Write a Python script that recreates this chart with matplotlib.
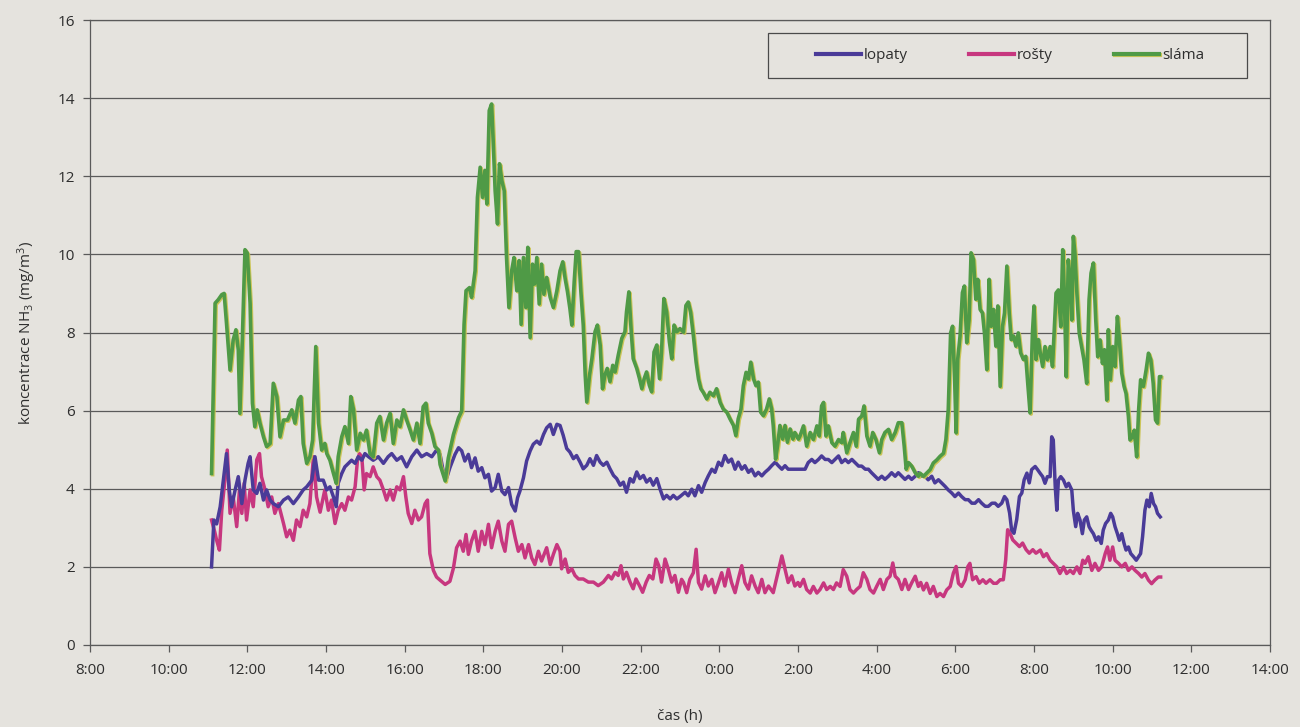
import matplotlib
matplotlib.use("Agg")
import matplotlib.pyplot as plt
import matplotlib.patheffects as pe
from matplotlib.patches import Rectangle

plt.rcParams['font.family'] = ['Open Sans', 'DejaVu Sans']
plt.rcParams['mathtext.default'] = 'regular'

# time in hours from 0:00 of day 1 (values > 24 are the next day)
t_slama = [11.09, 11.18, 11.26, 11.35, 11.41, 11.47, 11.56, 11.64, 11.71, 11.77, 11.81, 11.87, 11.94, 12.0, 12.07, 12.13, 12.19, 12.25, 12.32, 12.41, 12.49, 12.58, 12.66, 12.75, 12.83, 12.92, 13.02, 13.13, 13.21, 13.30, 13.36, 13.42, 13.51, 13.59, 13.66, 13.74, 13.81, 13.89, 13.97,
           14.02, 14.10, 14.19, 14.26, 14.31, 14.40, 14.48, 14.57, 14.63, 14.70, 14.78, 14.87, 14.95, 15.03, 15.12, 15.20, 15.29, 15.37, 15.46, 15.54, 15.63, 15.71, 15.80, 15.88, 15.97, 16.05, 16.14, 16.22, 16.31, 16.39, 16.47, 16.54, 16.60, 16.69, 16.77, 16.86,
           16.90, 17.03, 17.11, 17.24, 17.37, 17.45, 17.51, 17.56, 17.65, 17.70, 17.79, 17.85, 17.92, 17.98, 18.04, 18.09, 18.15, 18.21, 18.25, 18.30, 18.36, 18.41, 18.47, 18.53, 18.59, 18.65, 18.72, 18.78, 18.85, 18.91, 18.96, 19.02, 19.08, 19.13, 19.19, 19.25, 19.30, 19.36, 19.42, 19.48, 19.54, 19.61, 19.70, 19.78, 19.87, 19.95,
           20.02, 20.08, 20.14, 20.20, 20.25, 20.31, 20.36, 20.42, 20.48, 20.54, 20.59, 20.63, 20.70, 20.76, 20.84, 20.90, 20.97, 21.03, 21.09, 21.15, 21.22, 21.29, 21.35, 21.43, 21.52, 21.60, 21.64, 21.70, 21.76, 21.81, 21.90, 21.97, 22.03, 22.09, 22.15, 22.22, 22.28, 22.34, 22.41, 22.48, 22.53, 22.59, 22.66, 22.73, 22.79, 22.85, 22.92,
           23.0, 23.09, 23.15, 23.21, 23.27, 23.34, 23.41, 23.47, 23.53, 23.59, 23.68, 23.76, 23.85, 23.93, 24.02, 24.10, 24.19, 24.27, 24.36, 24.42, 24.48, 24.55, 24.61, 24.68, 24.74, 24.80, 24.87, 24.93, 24.99, 25.05, 25.12, 25.20, 25.27, 25.33, 25.37, 25.43, 25.48, 25.54, 25.61, 25.67, 25.73, 25.80, 25.87, 25.92, 26.01,
           26.05, 26.14, 26.22, 26.31, 26.39, 26.48, 26.54, 26.60, 26.65, 26.71, 26.77, 26.86, 26.94, 27.03, 27.11, 27.15, 27.24, 27.32, 27.41, 27.48, 27.54, 27.62, 27.68, 27.75, 27.83, 27.90, 27.98, 28.07, 28.13, 28.21, 28.30, 28.38, 28.47, 28.55, 28.64, 28.70, 28.75, 28.81, 28.89, 28.98, 29.06,
           29.10, 29.19, 29.27, 29.36, 29.44, 29.53, 29.61, 29.70, 29.76, 29.82, 29.88, 29.93, 29.98, 30.02, 30.06, 30.12, 30.18, 30.23, 30.29, 30.35, 30.40, 30.46, 30.52, 30.57, 30.63, 30.69, 30.74, 30.80, 30.86, 30.91, 30.97, 31.03, 31.08, 31.14, 31.20, 31.25, 31.31, 31.37, 31.42, 31.48, 31.54, 31.60, 31.66, 31.73, 31.79, 31.84, 31.90, 31.96, 32.00, 32.05, 32.11,
           32.16, 32.22, 32.28, 32.34, 32.41, 32.47, 32.52, 32.56, 32.62, 32.68, 32.73, 32.77, 32.82, 32.87, 32.92, 32.96, 33.00, 33.04, 33.09, 33.15, 33.21, 33.27, 33.34, 33.40, 33.45, 33.51, 33.57, 33.62, 33.68, 33.74, 33.79, 33.85, 33.89, 33.94, 34.00, 34.06, 34.12, 34.17, 34.23, 34.29, 34.34, 34.40, 34.44, 34.50, 34.55, 34.61, 34.66, 34.71, 34.78, 34.85, 34.91, 34.97, 35.03, 35.09, 35.14, 35.19, 35.22]
v_slama = [4.39, 8.75, 8.84, 8.97, 9.0, 8.24, 7.04, 7.81, 8.07, 7.55, 5.93, 7.73, 10.12, 10.03, 8.75, 6.19, 5.59, 6.02, 5.68, 5.33, 5.08, 5.16, 6.70, 6.36, 5.33, 5.76, 5.76, 6.02, 5.68, 6.27, 6.36, 5.16, 4.65, 4.82, 5.25, 7.64, 5.68, 4.99, 5.16,
           4.9, 4.73, 4.39, 4.14, 4.82, 5.33, 5.59, 5.16, 6.36, 6.02, 4.99, 5.42, 5.25, 5.5, 4.9, 4.82, 5.68, 5.85, 5.25, 5.68, 5.93, 5.16, 5.76, 5.59, 6.02, 5.76, 5.5, 5.25, 5.68, 5.16, 6.10, 6.19, 5.68, 5.42, 5.08, 4.99,
           4.62, 4.2, 4.79, 5.39, 5.82, 5.99, 8.21, 9.07, 9.15, 8.9, 9.58, 11.46, 12.23, 11.46, 12.15, 11.29, 13.68, 13.85, 12.91, 11.63, 10.78, 12.32, 11.89, 11.63, 9.92, 8.64, 9.58, 9.92, 9.07, 9.84, 8.21, 9.92, 8.64, 10.18, 7.87, 9.75, 9.24, 9.92, 8.73, 9.75, 8.98, 9.41, 8.9, 8.64, 9.07, 9.58,
           9.81, 9.38, 9.04, 8.62, 8.19, 9.30, 10.07, 10.07, 9.04, 8.19, 6.91, 6.22, 6.91, 7.33, 8.02, 8.19, 7.68, 6.56, 6.91, 7.08, 6.74, 7.16, 6.99, 7.42, 7.85, 8.02, 8.53, 9.04, 8.02, 7.33, 7.08, 6.82, 6.56, 6.82, 6.99, 6.65, 6.48, 7.5, 7.68, 6.82, 7.5, 8.87, 8.53, 7.76, 7.33, 8.19, 8.02,
           8.1, 8.01, 8.69, 8.78, 8.52, 7.92, 7.24, 6.81, 6.56, 6.47, 6.30, 6.47, 6.38, 6.56, 6.21, 6.04, 5.96, 5.79, 5.62, 5.36, 5.79, 6.04, 6.64, 6.98, 6.81, 7.24, 6.81, 6.64, 6.73, 5.96, 5.87, 6.04, 6.30, 6.04, 5.62, 4.76, 5.10, 5.62, 5.27, 5.62, 5.19, 5.53, 5.27, 5.44, 5.27,
           5.35, 5.61, 5.09, 5.44, 5.26, 5.61, 5.35, 6.12, 6.21, 5.35, 5.61, 5.18, 5.09, 5.26, 5.18, 5.44, 4.92, 5.18, 5.44, 5.09, 5.78, 5.86, 6.12, 5.35, 5.09, 5.44, 5.26, 4.92, 5.26, 5.44, 5.52, 5.26, 5.44, 5.69, 5.69, 5.09, 4.50, 4.67, 4.58, 4.41, 4.32,
           4.40, 4.32, 4.40, 4.49, 4.66, 4.74, 4.83, 4.91, 5.26, 6.03, 7.99, 8.16, 6.88, 5.43, 7.31, 7.91, 9.02, 9.19, 7.74, 8.33, 10.04, 9.87, 8.85, 9.36, 8.59, 8.50, 7.99, 7.05, 9.36, 8.16, 8.59, 7.65, 8.68, 6.62, 8.16, 8.50, 9.70, 8.50, 7.82, 7.91, 7.65, 7.99, 7.48, 7.31, 7.39, 6.71, 5.94, 7.99, 8.68, 7.31, 7.82,
           7.47, 7.13, 7.64, 7.30, 7.64, 7.13, 8.15, 9.01, 9.09, 8.15, 10.12, 9.01, 6.87, 9.86, 9.35, 8.32, 10.46, 10.03, 9.01, 7.98, 7.64, 7.30, 6.70, 8.84, 9.52, 9.78, 8.32, 7.38, 7.81, 7.21, 7.56, 6.27, 8.07, 6.79, 7.64, 7.13, 8.41, 7.81, 6.96, 6.62, 6.44, 5.85, 5.25, 5.33, 5.50, 4.82, 6.02, 6.79, 6.62, 7.04, 7.47, 7.30, 6.70, 5.76, 5.68, 6.87, 6.87]

t_lopaty = [11.09, 11.15, 11.22, 11.31, 11.39, 11.47, 11.54, 11.60, 11.69, 11.77, 11.86, 11.94, 12.02, 12.07, 12.15, 12.24, 12.32, 12.41, 12.49, 12.58, 12.66, 12.79, 12.92, 13.04, 13.17, 13.30, 13.42, 13.51, 13.64, 13.72, 13.81,
            13.93, 14.02, 14.10, 14.19, 14.26, 14.31, 14.40, 14.48, 14.57, 14.65, 14.74, 14.82, 14.91, 14.99, 15.08, 15.20, 15.33, 15.46, 15.58, 15.67, 15.80, 15.92, 16.05, 16.18, 16.31, 16.43, 16.56, 16.69, 16.81,
            16.90, 16.98, 17.07, 17.15, 17.28, 17.37, 17.45, 17.53, 17.62, 17.70, 17.79, 17.87, 17.96, 18.04, 18.13, 18.21, 18.30, 18.38, 18.47, 18.55, 18.64, 18.72, 18.81, 18.87, 18.93, 19.02, 19.10, 19.19, 19.27, 19.36, 19.44, 19.53, 19.61, 19.70, 19.78, 19.87,
            19.95, 20.03, 20.12, 20.20, 20.29, 20.37, 20.46, 20.54, 20.63, 20.71, 20.80, 20.88, 20.97, 21.05, 21.14, 21.22, 21.31, 21.39, 21.48, 21.56, 21.64, 21.73, 21.81, 21.90, 21.98, 22.07, 22.15, 22.24, 22.32, 22.41, 22.49, 22.58, 22.66, 22.75, 22.83, 22.92,
            23.0, 23.13, 23.21, 23.30, 23.38, 23.47, 23.55, 23.64, 23.72, 23.81, 23.89, 23.98, 24.06, 24.14, 24.23, 24.31, 24.40, 24.48, 24.57, 24.65, 24.74, 24.82, 24.91, 24.99, 25.08, 25.16, 25.25, 25.33, 25.42, 25.50, 25.59, 25.67, 25.75, 25.88,
            26.05, 26.18, 26.26, 26.35, 26.43, 26.52, 26.60, 26.69, 26.77, 26.86, 26.94, 27.03, 27.11, 27.20, 27.28, 27.37, 27.45, 27.54, 27.62, 27.71, 27.79, 27.87, 27.96, 28.04, 28.13, 28.21, 28.30, 28.38, 28.47, 28.55, 28.64, 28.72, 28.81, 28.89, 28.98, 29.06,
            29.15, 29.23, 29.31, 29.40, 29.48, 29.57, 29.65, 29.74, 29.82, 29.91, 29.99, 30.08, 30.16, 30.25, 30.33, 30.42, 30.50, 30.59, 30.67, 30.76, 30.84, 30.93, 31.01, 31.09, 31.18, 31.25, 31.31, 31.38, 31.43, 31.49, 31.56, 31.63, 31.69, 31.75, 31.82, 31.88, 31.94, 32.03, 32.09,
            32.16, 32.22, 32.28, 32.34, 32.41, 32.45, 32.49, 32.54, 32.58, 32.62, 32.68, 32.75, 32.82, 32.88, 32.96, 33.00, 33.06, 33.11, 33.17, 33.23, 33.28, 33.34, 33.40, 33.45, 33.51, 33.58, 33.64, 33.71, 33.76, 33.82, 33.89, 33.95, 34.00, 34.06, 34.12, 34.17, 34.23, 34.29, 34.34, 34.40, 34.46, 34.53, 34.60, 34.66, 34.71, 34.76, 34.82, 34.87, 34.93, 34.98, 35.04, 35.09, 35.14, 35.21]
v_lopaty = [2.0, 3.2, 3.1, 3.54, 4.22, 4.9, 3.97, 3.54, 3.97, 4.31, 3.62, 4.22, 4.65, 4.82, 3.97, 3.88, 4.14, 3.71, 3.97, 3.71, 3.62, 3.54, 3.71, 3.79, 3.62, 3.79, 3.97, 4.05, 4.22, 4.82, 4.22,
            4.22, 3.97, 4.05, 3.79, 3.54, 4.14, 4.39, 4.56, 4.65, 4.73, 4.65, 4.82, 4.73, 4.9, 4.82, 4.73, 4.82, 4.65, 4.82, 4.9, 4.73, 4.82, 4.56, 4.82, 4.99, 4.82, 4.9, 4.82, 4.99,
            4.88, 4.45, 4.28, 4.54, 4.88, 5.05, 4.97, 4.71, 4.88, 4.54, 4.79, 4.45, 4.54, 4.28, 4.37, 3.94, 4.03, 4.37, 3.94, 3.85, 4.03, 3.6, 3.43, 3.77, 3.94, 4.28, 4.71, 4.97, 5.14, 5.22, 5.14, 5.39, 5.56, 5.65, 5.39, 5.65,
            5.62, 5.37, 5.03, 4.94, 4.77, 4.85, 4.68, 4.51, 4.6, 4.77, 4.6, 4.85, 4.68, 4.6, 4.68, 4.51, 4.34, 4.26, 4.09, 4.17, 3.91, 4.26, 4.17, 4.43, 4.26, 4.34, 4.17, 4.26, 4.09, 4.26, 4.0, 3.74, 3.83, 3.74, 3.83, 3.74,
            3.8, 3.91, 3.82, 3.99, 3.82, 4.08, 3.91, 4.16, 4.33, 4.50, 4.42, 4.68, 4.59, 4.85, 4.68, 4.76, 4.50, 4.68, 4.50, 4.59, 4.42, 4.50, 4.33, 4.42, 4.33, 4.42, 4.50, 4.59, 4.68, 4.59, 4.50, 4.59, 4.50, 4.50,
            4.50, 4.5, 4.67, 4.75, 4.67, 4.75, 4.84, 4.75, 4.75, 4.67, 4.75, 4.84, 4.67, 4.75, 4.67, 4.75, 4.67, 4.58, 4.58, 4.50, 4.50, 4.41, 4.32, 4.24, 4.32, 4.24, 4.32, 4.41, 4.32, 4.41, 4.32, 4.24, 4.32, 4.24, 4.32, 4.41,
            4.32, 4.32, 4.23, 4.32, 4.15, 4.23, 4.15, 4.06, 3.97, 3.89, 3.80, 3.89, 3.80, 3.72, 3.72, 3.63, 3.63, 3.72, 3.63, 3.55, 3.55, 3.63, 3.63, 3.55, 3.63, 3.80, 3.72, 3.38, 2.95, 2.86, 3.21, 3.80, 3.89, 4.23, 4.40, 4.15, 4.49, 4.57, 4.49,
            4.39, 4.31, 4.14, 4.31, 4.31, 5.33, 5.25, 4.05, 3.45, 4.22, 4.31, 4.22, 4.05, 4.14, 3.97, 3.45, 3.03, 3.37, 3.20, 2.85, 3.20, 3.28, 3.03, 2.94, 2.85, 2.68, 2.77, 2.60, 2.94, 3.11, 3.20, 3.37, 3.28, 3.03, 2.85, 2.68, 2.85, 2.60, 2.43, 2.51, 2.34, 2.26, 2.17, 2.26, 2.34, 2.77, 3.45, 3.71, 3.54, 3.88, 3.62, 3.54, 3.37, 3.28]

t_rosty = [11.09, 11.17, 11.22, 11.29, 11.35, 11.43, 11.49, 11.56, 11.64, 11.73, 11.80, 11.86, 11.92, 11.98, 12.07, 12.15, 12.24, 12.31, 12.36, 12.45, 12.53, 12.62, 12.70, 12.79, 12.92, 13.00, 13.08, 13.17, 13.25, 13.34, 13.42, 13.51, 13.59, 13.68, 13.76, 13.85,
           13.97, 14.06, 14.14, 14.23, 14.31, 14.40, 14.48, 14.57, 14.65, 14.74, 14.80, 14.85, 14.91, 14.97, 15.03, 15.12, 15.20, 15.29, 15.37, 15.46, 15.54, 15.63, 15.71, 15.80, 15.88, 15.97, 16.03, 16.09, 16.18, 16.26, 16.35, 16.43, 16.52, 16.58, 16.64, 16.73, 16.81, 16.90,
           17.03, 17.15, 17.24, 17.32, 17.41, 17.49, 17.56, 17.62, 17.70, 17.79, 17.87, 17.96, 18.04, 18.13, 18.21, 18.30, 18.38, 18.47, 18.55, 18.64, 18.72, 18.81, 18.89, 18.98, 19.06, 19.15, 19.23, 19.31, 19.40, 19.48, 19.61, 19.70, 19.78, 19.87,
           19.95, 19.99, 20.08, 20.16, 20.25, 20.33, 20.42, 20.54, 20.67, 20.80, 20.92, 21.05, 21.18, 21.26, 21.35, 21.43, 21.50, 21.56, 21.64, 21.73, 21.81, 21.88, 21.97, 22.05, 22.14, 22.22, 22.31, 22.39, 22.46, 22.53, 22.62, 22.70, 22.79, 22.87, 22.96,
           23.04, 23.09, 23.17, 23.25, 23.34, 23.41, 23.47, 23.55, 23.64, 23.72, 23.81, 23.89, 23.98, 24.06, 24.14, 24.23, 24.31, 24.40, 24.48, 24.57, 24.65, 24.74, 24.82, 24.91, 24.99, 25.08, 25.16, 25.25, 25.37, 25.47, 25.59, 25.67, 25.75, 25.84, 25.92, 26.0,
           26.05, 26.14, 26.22, 26.31, 26.39, 26.48, 26.56, 26.65, 26.73, 26.82, 26.90, 26.98, 27.07, 27.15, 27.24, 27.32, 27.41, 27.49, 27.58, 27.66, 27.75, 27.83, 27.92, 28.00, 28.09, 28.17, 28.26, 28.34, 28.41, 28.47, 28.55, 28.64, 28.72, 28.81, 28.89, 28.98, 29.06,
           29.12, 29.19, 29.27, 29.36, 29.44, 29.53, 29.61, 29.70, 29.78, 29.87, 29.95, 30.02, 30.08, 30.16, 30.25, 30.32, 30.37, 30.44, 30.53, 30.61, 30.70, 30.78, 30.88, 30.97, 31.05, 31.14, 31.22, 31.28, 31.33, 31.39, 31.46, 31.54, 31.63, 31.71, 31.80, 31.88, 31.97, 32.05,
           32.16, 32.24, 32.32, 32.41, 32.49, 32.58, 32.66, 32.75, 32.83, 32.92, 33.00, 33.09, 33.17, 33.24, 33.30, 33.38, 33.47, 33.55, 33.64, 33.72, 33.81, 33.87, 33.93, 34.00, 34.06, 34.15, 34.23, 34.32, 34.40, 34.49, 34.57, 34.66, 34.74, 34.82, 34.91, 34.99, 35.07, 35.16, 35.22]
v_rosty = [3.2, 2.9, 2.68, 2.43, 3.45, 4.22, 4.99, 3.37, 3.79, 3.03, 3.97, 3.37, 4.14, 3.2, 3.97, 3.54, 4.74, 4.9, 4.31, 3.97, 3.54, 3.79, 3.37, 3.62, 3.11, 2.77, 2.94, 2.68, 3.2, 3.03, 3.45, 3.28, 3.62, 4.82, 3.79, 3.4,
           3.97, 3.45, 3.71, 3.11, 3.45, 3.62, 3.45, 3.79, 3.71, 4.05, 4.73, 4.9, 4.82, 3.97, 4.39, 4.31, 4.56, 4.31, 4.22, 3.97, 3.71, 3.97, 3.71, 4.05, 3.97, 4.31, 3.79, 3.37, 3.11, 3.45, 3.2, 3.28, 3.62, 3.71, 2.34, 1.91, 1.74, 1.66,
           1.55, 1.63, 1.97, 2.49, 2.66, 2.4, 2.83, 2.32, 2.66, 2.91, 2.4, 2.91, 2.57, 3.09, 2.49, 2.91, 3.17, 2.66, 2.4, 3.09, 3.17, 2.74, 2.4, 2.57, 2.23, 2.57, 2.23, 2.06, 2.4, 2.15, 2.49, 2.06, 2.32, 2.57,
           2.4, 1.95, 2.2, 1.86, 1.95, 1.78, 1.69, 1.69, 1.61, 1.61, 1.52, 1.61, 1.78, 1.69, 1.86, 1.78, 2.03, 1.69, 1.86, 1.61, 1.44, 1.69, 1.52, 1.35, 1.61, 1.78, 1.69, 2.2, 2.03, 1.61, 2.2, 1.95, 1.61, 1.78, 1.35,
           1.68, 1.6, 1.34, 1.68, 1.85, 2.45, 1.6, 1.43, 1.77, 1.51, 1.68, 1.34, 1.6, 1.85, 1.51, 1.94, 1.6, 1.34, 1.68, 2.03, 1.6, 1.43, 1.77, 1.51, 1.34, 1.68, 1.34, 1.51, 1.34, 1.77, 2.28, 1.94, 1.6, 1.77, 1.51, 1.6,
           1.5, 1.68, 1.42, 1.33, 1.5, 1.33, 1.42, 1.59, 1.42, 1.5, 1.42, 1.59, 1.5, 1.93, 1.76, 1.42, 1.33, 1.42, 1.50, 1.85, 1.68, 1.42, 1.33, 1.5, 1.68, 1.42, 1.68, 1.76, 2.1, 1.76, 1.68, 1.42, 1.68, 1.42, 1.59, 1.76, 1.50,
           1.6, 1.41, 1.58, 1.32, 1.50, 1.24, 1.32, 1.24, 1.41, 1.50, 1.84, 2.01, 1.58, 1.50, 1.67, 2.01, 2.09, 1.67, 1.75, 1.58, 1.67, 1.58, 1.67, 1.58, 1.58, 1.67, 1.67, 2.18, 2.95, 2.86, 2.69, 2.61, 2.52, 2.61, 2.44, 2.35, 2.44, 2.35,
           2.43, 2.26, 2.34, 2.17, 2.09, 2.0, 1.83, 2.0, 1.83, 1.91, 1.83, 2.0, 1.83, 2.17, 2.09, 2.26, 1.91, 2.09, 1.91, 2.0, 2.34, 2.51, 2.17, 2.51, 2.17, 2.09, 2.0, 2.09, 1.91, 2.0, 1.91, 1.83, 1.74, 1.83, 1.66, 1.57, 1.66, 1.74, 1.74]

x_ticks = list(range(8, 39, 2))
x_tick_labels = [f"{h % 24}:00" for h in x_ticks]
y_ticks = list(range(0, 17, 2))

paper = '#E5E3DE'
c_lopaty = '#4A3B98'
c_rosty = '#C7377F'
c_slama = '#4F9A46'

fig = plt.figure(figsize=(13, 7.27), dpi=100, facecolor=paper)
ax = fig.add_axes([90/1300, 1-645/727, 1180/1300, 625/727])
ax.set_facecolor(paper)

ax.plot(t_rosty, v_rosty, color=c_rosty, lw=2.5, zorder=3, label='rošty',
        solid_joinstyle='round')
ax.plot(t_lopaty, v_lopaty, color=c_lopaty, lw=2.5, zorder=4, label='lopaty',
        solid_joinstyle='round')
ax.plot(t_slama, v_slama, color=c_slama, lw=2.6, zorder=5, label='sláma',
        solid_joinstyle='round',
        path_effects=[pe.SimpleLineShadow(offset=(0.8, -0.8), shadow_color='#C9C24A', alpha=0.9),
                      pe.Normal()])

ax.set_xlim(8, 38)
ax.set_ylim(0, 16)
ax.set_xticks(x_ticks)
ax.set_xticklabels(x_tick_labels)
ax.set_yticks(y_ticks)
ax.yaxis.grid(True, color='#5a5a5a', lw=0.9)
ax.set_axisbelow(True)
for s in ax.spines.values():
    s.set_color('#5a5a5a')
    s.set_linewidth(0.9)
ax.tick_params(axis='both', colors='#5a5a5a', labelcolor='#2e2e2e', labelsize=11,
               length=5, width=0.9, direction='out')
ax.tick_params(axis='x', pad=8)
ax.tick_params(axis='y', pad=6)

ax.set_xlabel('čas (h)', fontsize=11, color='#2e2e2e', labelpad=22)
ax.set_ylabel('koncentrace NH$_3$ (mg/m$^3$)', fontsize=11, color='#2e2e2e', labelpad=14)

# legend frame
ax.add_patch(Rectangle((0.5746, 0.9072), 0.406, 0.072, transform=ax.transAxes,
                       facecolor=paper, edgecolor='#4a4a4a', lw=0.9, zorder=8,
                       clip_on=False))
handles, labels = ax.get_legend_handles_labels()
order = [labels.index('lopaty'), labels.index('rošty'), labels.index('sláma')]
leg = ax.legend([handles[i] for i in order], [labels[i] for i in order],
                loc='center', bbox_to_anchor=(0.7797, 0.943),
                ncol=3, frameon=False, fontsize=11, handlelength=2.95,
                handletextpad=0.2, columnspacing=4.0, borderaxespad=0)
leg.set_zorder(9)
for txt in leg.get_texts():
    txt.set_color('#2e2e2e')
for ln in leg.get_lines():
    ln.set_linewidth(3)

fig.savefig('out.png', dpi=100, facecolor=paper)
